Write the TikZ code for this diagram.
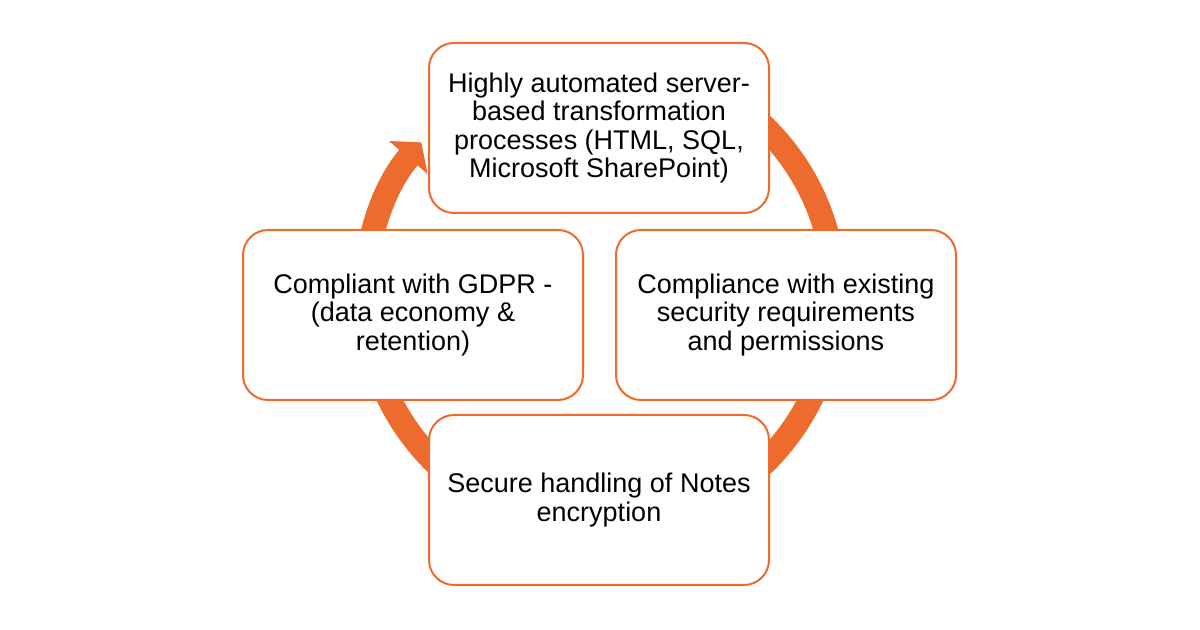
\documentclass[tikz,border=0pt]{standalone}
\usepackage{fontspec}
\setmainfont{Liberation Sans}
\usetikzlibrary{arrows.meta}
\definecolor{cyorange}{RGB}{237,107,44}
\tikzset{
  cyc/.style={x=0.5pt, y=0.5pt, font=\fontsize{13.5}{14.3}\selectfont},
  cy box/.style={draw=cyorange, line width=1pt, fill=white, rounded corners=12.5pt, align=center,
                 minimum width=170pt, minimum height=85pt, inner sep=0pt},
  cy ring/.style={draw=cyorange, line width=12pt, -{Triangle[length=10pt, width=25pt]}},
}

\begin{document}
\begin{tikzpicture}[cyc]
\path[fill=white, use as bounding box] (0, 0) rectangle (1200, 630);
% ---- circular arrow behind the boxes ----
\coordinate (hub) at (600, 335);
\draw[cy ring] ([shift={(95:235)}]hub) arc[start angle=95, end angle=-220.5, radius=235];
% ---- the four steps ----
\node[cy box] (hi) at (599, 502) {Highly automated server-\\based transformation\\processes (HTML, SQL,\\Microsoft SharePoint)};
\node[cy box] (co) at (786, 315) {Compliance with existing\\security requirements\\and permissions};
\node[cy box] (se) at (599, 130) {Secure handling of Notes\\encryption};
\node[cy box] (gd) at (413, 315) {Compliant with GDPR -\\(data economy \&\\retention)};
\end{tikzpicture}
\end{document}
